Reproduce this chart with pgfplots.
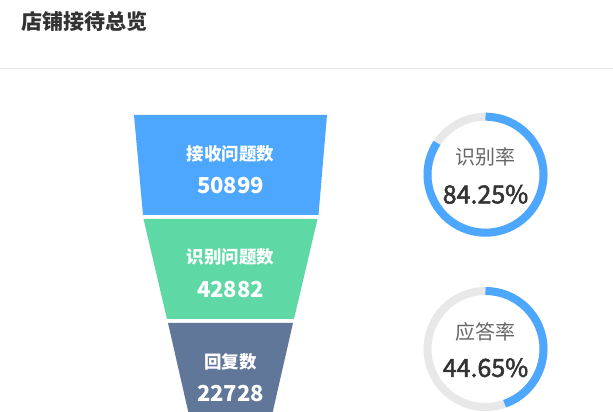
\documentclass[border=0pt]{standalone}
\usepackage{pgfplots}
\pgfplotsset{compat=1.18}
\usepackage{fontspec}
\setmainfont{Noto Sans CJK SC}
\newfontfamily\cjk{Noto Sans CJK SC}
\newfontfamily\cjkmed[FakeBold=2]{Noto Sans CJK SC}

\definecolor{fblue}{HTML}{4DA7FE}
\definecolor{fgreen}{HTML}{5ED8A5}
\definecolor{fslate}{HTML}{607799}
\definecolor{ringgray}{HTML}{E8E8E8}
\definecolor{txtdark}{HTML}{333333}
\definecolor{txtgray}{HTML}{666666}

% funnel stages: 接收问题数 50899, 识别问题数 42882, 回复数 22728
% rates
\def\rateA{84.25}
\def\rateB{44.65}

\begin{document}
\begin{tikzpicture}
\begin{axis}[
    width=613pt, height=412pt, scale only axis,
    xmin=0, xmax=613, ymin=0, ymax=412,
    hide axis,
]
% background and separator
\addplot[fill=white, draw=none] coordinates {(0,0)(613,0)(613,412)(0,412)} \closedcycle;
\addplot[color=black!9, line width=1pt] coordinates {(0,343)(613,343)};

% funnel
\addplot[fill=fblue, draw=none] coordinates {(134,297)(327,297)(318.5,197)(143,197)} -- cycle;
\addplot[fill=fgreen, draw=none] coordinates {(143.5,193)(317.5,193)(294,93)(167,93)} -- cycle;
\addplot[fill=fslate, draw=none] coordinates {(168,89)(293,89)(270.2,-11)(190.8,-11)} -- cycle;

% gauges
\draw[ringgray, line width=8pt] (axis cs:485.5,237.3) circle[radius=58pt];
\draw[fblue, line width=8pt] (axis cs:485.5,295.3) arc[start angle=90, delta angle=-3.6*\rateA, radius=58pt];
\draw[ringgray, line width=8pt] (axis cs:485.5,63) circle[radius=58pt];
\draw[fblue, line width=8pt] (axis cs:485.5,121) arc[start angle=90, delta angle=-3.6*\rateB, radius=58pt];

% labels
\node[anchor=west, text=txtdark, font=\cjk\bfseries\fontsize{21}{23}\selectfont] at (axis cs:18,390.5) {店铺接待总览};

\node[text=white, font=\cjk\bfseries\fontsize{17.5}{20}\selectfont] at (axis cs:230.5,258) {接收问题数};
\node[text=white, font=\cjk\bfseries\fontsize{22}{24}\selectfont] at (axis cs:230.5,226) {50899};
\node[text=white, font=\cjk\bfseries\fontsize{17.5}{20}\selectfont] at (axis cs:230.5,154.7) {识别问题数};
\node[text=white, font=\cjk\bfseries\fontsize{22}{24}\selectfont] at (axis cs:230.5,122) {42882};
\node[text=white, font=\cjk\bfseries\fontsize{17.5}{20}\selectfont] at (axis cs:230.5,50) {回复数};
\node[text=white, font=\cjk\bfseries\fontsize{22}{24}\selectfont] at (axis cs:230.5,18) {22728};

\node[text=txtgray, font=\cjk\fontsize{20}{22}\selectfont] at (axis cs:485.5,254.7) {识别率};
\node[text=txtdark, font=\cjkmed\fontsize{25}{27}\selectfont] at (axis cs:485.5,217.7) {\rateA\%};
\node[text=txtgray, font=\cjk\fontsize{20}{22}\selectfont] at (axis cs:485.5,79.7) {应答率};
\node[text=txtdark, font=\cjkmed\fontsize{25}{27}\selectfont] at (axis cs:485.5,44.3) {\rateB\%};
\end{axis}
\end{tikzpicture}
\end{document}
